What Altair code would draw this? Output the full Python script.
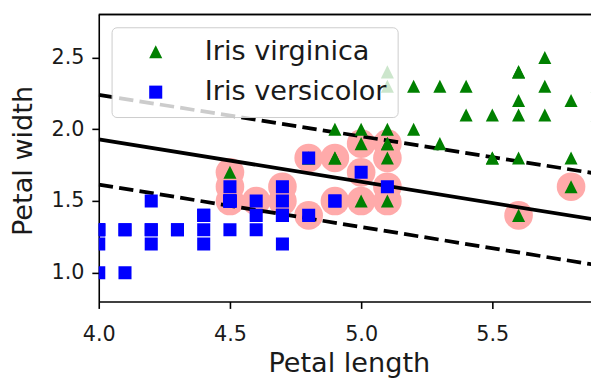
import altair as alt
import pandas as pd

# Iris virginica: petal length / petal width
virginica_length = [5.1, 5.9, 5.6, 5.8, 4.5, 5.8, 5.1, 5.3, 5.5, 5.0, 5.1, 5.3, 5.5, 5.0, 5.7,
                    4.9, 4.9, 5.7, 4.8, 4.9, 5.6, 5.8, 5.6, 5.1, 5.6, 5.6, 5.5, 4.8, 5.4, 5.6,
                    5.1, 5.1, 5.9, 5.7, 5.2, 5.0, 5.2, 5.4, 5.1]
virginica_width = [1.9, 2.1, 1.8, 2.2, 1.7, 1.8, 2.0, 1.9, 2.1, 2.0, 2.4, 2.3, 1.8, 1.5, 2.3,
                   2.0, 1.8, 2.1, 1.8, 1.8, 2.1, 1.6, 2.2, 1.5, 1.4, 2.4, 1.8, 1.8, 2.1, 2.4,
                   2.3, 1.9, 2.3, 2.5, 2.3, 1.9, 2.0, 2.3, 1.8]

# Iris versicolor: petal length / petal width
versicolor_length = [4.7, 4.5, 4.9, 4.0, 4.6, 4.5, 4.7, 4.6, 4.2, 4.0, 4.7, 4.4, 4.5, 4.1, 4.5,
                     4.8, 4.0, 4.9, 4.7, 4.3, 4.4, 4.8, 5.0, 4.5, 5.1, 4.5, 4.5, 4.7, 4.4, 4.1,
                     4.0, 4.4, 4.6, 4.0, 4.2, 4.2, 4.2, 4.3, 4.1]
versicolor_width = [1.4, 1.5, 1.5, 1.3, 1.5, 1.3, 1.6, 1.3, 1.5, 1.0, 1.4, 1.4, 1.5, 1.0, 1.5,
                    1.8, 1.3, 1.5, 1.2, 1.3, 1.4, 1.4, 1.7, 1.5, 1.6, 1.5, 1.6, 1.5, 1.3, 1.3,
                    1.3, 1.2, 1.4, 1.2, 1.3, 1.2, 1.3, 1.3, 1.3]

# Support vectors (highlighted)
sv_length = [4.5, 4.5, 4.6, 4.7, 4.7, 4.8, 4.8, 4.9, 5.0, 5.1,
             5.1, 4.5, 5.0, 4.9, 5.8, 5.1, 5.6, 5.0, 5.1]
sv_width = [1.5, 1.6, 1.5, 1.6, 1.5, 1.8, 1.4, 1.5, 1.7, 1.6,
            1.9, 1.7, 1.5, 1.8, 1.6, 1.5, 1.4, 1.9, 1.8]

# Decision boundary and margins
line_length = [4.0, 5.9]
boundary_width = [1.93, 1.368]
gutter_up_width = [2.24, 1.69]
gutter_down_width = [1.615, 1.053]

species_names = ["Iris virginica", "Iris versicolor"]

pts = pd.DataFrame({
    "length": virginica_length + versicolor_length,
    "width": virginica_width + versicolor_width,
    "species": [species_names[0]] * len(virginica_length) + [species_names[1]] * len(versicolor_length),
})
svs = pd.DataFrame({"length": sv_length, "width": sv_width})
solid = pd.DataFrame({"length": line_length, "width": boundary_width})
dashed = pd.DataFrame({
    "length": line_length + line_length,
    "width": gutter_up_width + gutter_down_width,
    "kind": ["up", "up", "down", "down"],
})

FONT = "DejaVu Sans"
TXT = "#1a1a1a"

xscale = alt.Scale(domain=[4.0, 5.876], nice=False, zero=False)
yscale = alt.Scale(domain=[0.8, 2.8], nice=False, zero=False)

X = alt.X("length:Q", scale=xscale,
          axis=alt.Axis(title="Petal length", values=[4.0, 4.5, 5.0, 5.5], format=".1f",
                        titleX=253.5, titleY=71, titleBaseline="alphabetic",
                        labelPadding=16, labelFlush=False, labelBound=False))
Y = alt.Y("width:Q", scale=yscale,
          axis=alt.Axis(title="Petal width", values=[1.0, 1.5, 2.0, 2.5], format=".1f",
                        titleX=-68, titleY=148, titleBaseline="alphabetic",
                        labelPadding=8, labelFlush=False))

legend = alt.Legend(title=None, orient="none", legendX=13, legendY=13,
                    labelFontSize=27.5, labelFont=FONT, labelColor=TXT, labelLimit=500,
                    symbolSize=175, symbolStrokeWidth=0,
                    padding=11, symbolOffset=20, labelOffset=36,
                    rowPadding=12,
                    fillColor="rgba(255,255,255,0.8)", strokeColor="#cccccc",
                    cornerRadius=5)

sv_layer = alt.Chart(svs).mark_circle(size=841, color="#FFAAAA", opacity=1).encode(x=X, y=Y)

solid_layer = alt.Chart(solid).mark_line(color="black", strokeWidth=3.8, clip=True).encode(x=X, y=Y)

dashed_layer = alt.Chart(dashed).mark_line(color="black", strokeWidth=3.8, strokeDash=[14.6, 6.3],
                                           clip=True).encode(x=X, y=Y, detail="kind:N")

points_layer = alt.Chart(pts).mark_point(filled=True, size=175, opacity=1, clip=True).encode(
    x=X, y=Y,
    shape=alt.Shape("species:N",
                    scale=alt.Scale(domain=species_names, range=["M0,-1L-1,1L1,1Z", "square"]),
                    legend=legend),
    color=alt.Color("species:N",
                    scale=alt.Scale(domain=species_names, range=["#008000", "#0000ff"]),
                    legend=legend),
)

top_spine = alt.Chart(solid).mark_rule(color="black", strokeWidth=1.6).encode(y=alt.value(0))

chart = alt.layer(sv_layer, solid_layer, dashed_layer, points_layer, top_spine).properties(
    width=499, height=291,
    autosize=alt.AutoSizeParams(type="none"),
    padding={"left": 92, "top": 4, "right": 0, "bottom": 75},
).configure_view(stroke=None).configure_axis(
    labelFont=FONT, titleFont=FONT, labelFontSize=21, titleFontSize=27.5,
    labelColor=TXT, titleColor=TXT, titleFontWeight="normal",
    domainColor="black", domainWidth=1.6, tickColor="black", tickWidth=1.6, tickSize=7,
    grid=False,
)

chart.save("out.html", embed_options={"renderer": "svg", "actions": False})
